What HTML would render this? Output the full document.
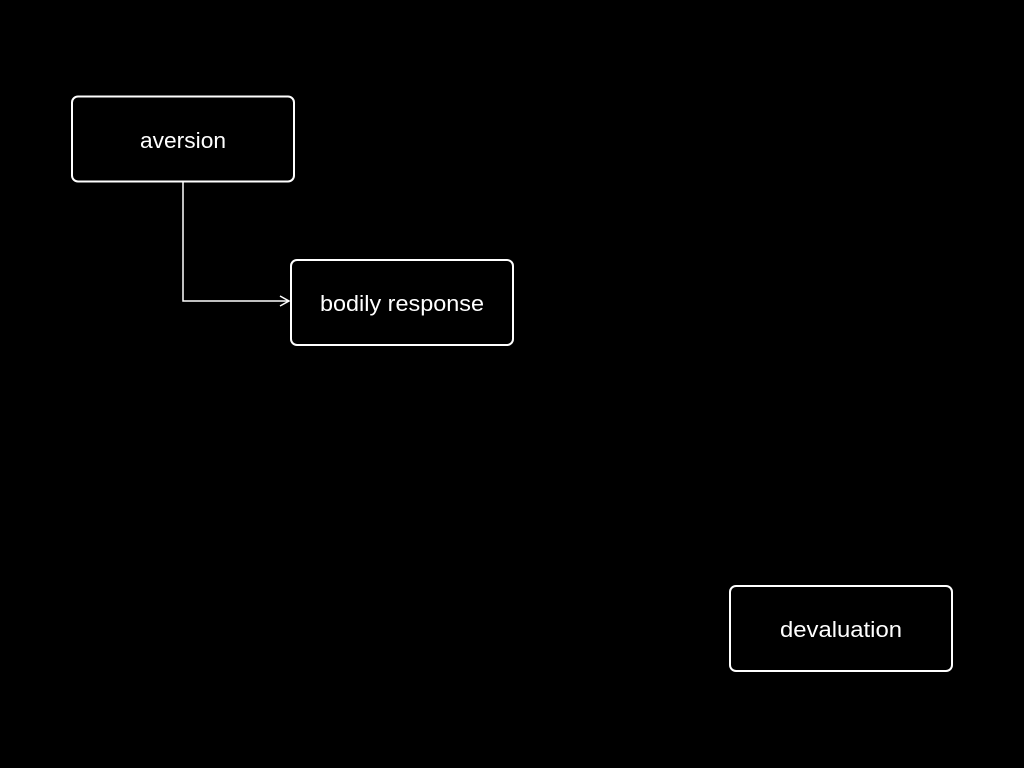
<!DOCTYPE html>
<html><head><style>
html,body{margin:0;padding:0;background:#000;width:1024px;height:768px;overflow:hidden}
</style></head><body>
<svg width="1024" height="768" xmlns="http://www.w3.org/2000/svg" style="position:absolute;left:0;top:0">
<rect width="1024" height="768" fill="#000"/>
<g fill="none" stroke="#fff" stroke-width="2">
<rect x="72" y="96.5" width="222" height="85" rx="6"/>
<rect x="291" y="260" width="222" height="85" rx="6"/>
<rect x="730" y="586" width="222" height="85" rx="6"/>
<path d="M183 182 V301 H289" stroke-width="1.5"/>
<path d="M280 296 L289 301 L280 306" stroke-width="1.5"/>
</g>
<g fill="#fff" font-family="'Liberation Sans',sans-serif" font-size="22" text-anchor="middle">
<text x="183" y="148" textLength="86" lengthAdjust="spacingAndGlyphs">aversion</text>
<text x="402" y="311" textLength="164" lengthAdjust="spacingAndGlyphs">bodily response</text>
<text x="841" y="637" textLength="122" lengthAdjust="spacingAndGlyphs">devaluation</text>
</g>
</svg>
</body></html>
